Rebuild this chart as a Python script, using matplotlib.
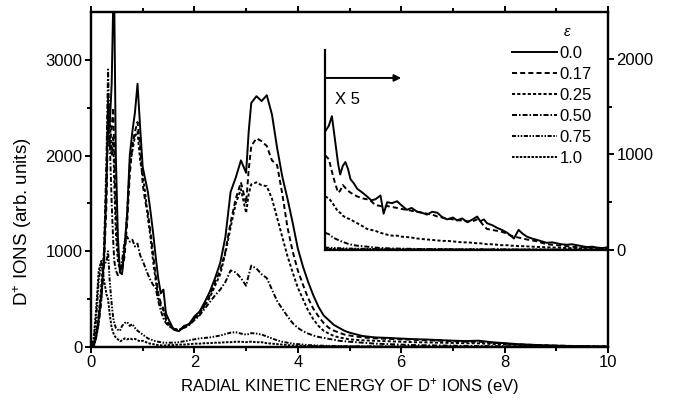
import matplotlib
matplotlib.use("Agg")
import matplotlib.pyplot as plt

plt.rcParams['font.family'] = ['Liberation Sans', 'DejaVu Sans']
plt.rcParams['mathtext.fontset'] = 'custom'
plt.rcParams['mathtext.rm'] = 'Liberation Sans'
plt.rcParams['mathtext.it'] = 'Liberation Sans:italic'

# energies (eV) for the main curves
x_main = [0.0, 0.05, 0.1, 0.15, 0.2, 0.25, 0.3, 0.33, 0.36, 0.4,
          0.43, 0.45, 0.48, 0.52, 0.56, 0.6, 0.65, 0.7, 0.75, 0.8,
          0.85, 0.9, 0.95, 1.0, 1.05, 1.1, 1.15, 1.2, 1.25, 1.3,
          1.35, 1.4, 1.45, 1.5, 1.6, 1.7, 1.8, 1.9, 2.0, 2.1,
          2.2, 2.3, 2.4, 2.5, 2.6, 2.7, 2.8, 2.9, 3.0, 3.05,
          3.1, 3.2, 3.3, 3.4, 3.5, 3.6, 3.7, 3.8, 3.9, 4.0,
          4.1, 4.2, 4.3, 4.4, 4.5, 4.6, 4.7, 4.8, 4.9, 5.0,
          5.25, 5.5, 5.75, 6.0, 6.25, 6.5, 6.75, 7.0, 7.25, 7.5,
          7.75, 8.0, 8.25, 8.5, 8.75, 9.0, 9.5, 10.0]

eps_00 = [0, 0, 120, 300, 560, 900, 1700, 2500, 2300, 2750,
          3600, 3600, 2000, 1150, 780, 760, 1050, 1400, 2000, 2250,
          2450, 2750, 2300, 1880, 1750, 1620, 1420, 1200, 950, 720,
          560, 600, 350, 290, 180, 165, 220, 240, 320, 370,
          470, 580, 720, 880, 1150, 1620, 1770, 1950, 1820, 2250,
          2550, 2620, 2570, 2630, 2430, 2080, 1780, 1550, 1300, 1030,
          840, 680, 540, 420, 330, 280, 230, 200, 170, 150,
          115, 100, 95, 88, 82, 78, 72, 66, 62, 66,
          50, 40, 30, 24, 18, 14, 8, 4]

eps_017 = [0, 0, 100, 260, 500, 850, 1500, 2400, 2100, 2300,
           2500, 2000, 1400, 1000, 820, 800, 950, 1300, 1800, 2100,
           2250, 2350, 2100, 1700, 1520, 1400, 1200, 980, 750, 560,
           460, 400, 300, 250, 190, 175, 210, 240, 300, 350,
           440, 540, 680, 800, 1000, 1300, 1550, 1720, 1500, 1850,
           2100, 2180, 2150, 2100, 1950, 1900, 1600, 1250, 1000, 800,
           650, 510, 400, 320, 250, 200, 170, 150, 130, 120,
           100, 90, 85, 80, 75, 70, 65, 60, 55, 55,
           45, 35, 28, 22, 18, 14, 9, 5]

eps_025 = [0, 0, 150, 350, 650, 1000, 1800, 2600, 2400, 2000,
           2200, 1700, 1200, 900, 800, 850, 1000, 1400, 1900, 2050,
           2200, 2250, 1950, 1800, 1600, 1350, 1150, 900, 700, 520,
           430, 380, 280, 230, 180, 175, 200, 235, 290, 340,
           430, 520, 640, 760, 980, 1250, 1500, 1650, 1400, 1600,
           1700, 1720, 1690, 1680, 1550, 1350, 1150, 950, 780, 620,
           500, 380, 290, 220, 170, 140, 115, 100, 90, 80,
           70, 65, 60, 55, 50, 48, 45, 42, 40, 38,
           32, 28, 22, 18, 15, 12, 8, 4]

eps_050 = [0, 0, 100, 250, 500, 900, 2000, 2900, 2200, 1500,
           1100, 900, 800, 750, 780, 900, 1100, 1150, 1100, 1120,
           1050, 1080, 960, 900, 830, 760, 700, 650, 620, 480,
           380, 300, 250, 220, 190, 180, 200, 230, 280, 330,
           400, 470, 540, 600, 680, 800, 780, 720, 640, 750,
           850, 820, 760, 720, 600, 480, 400, 320, 250, 200,
           165, 140, 120, 105, 95, 85, 75, 65, 60, 55,
           45, 35, 30, 25, 20, 18, 16, 14, 12, 10,
           9, 8, 7, 6, 5, 4, 3, 2]

eps_075 = [0, 50, 300, 700, 880, 850, 900, 1000, 700, 450,
           300, 250, 200, 180, 170, 220, 250, 260, 220, 240,
           200, 170, 150, 130, 110, 90, 80, 70, 60, 55,
           50, 45, 45, 45, 45, 50, 60, 70, 80, 90,
           95, 100, 110, 120, 135, 150, 155, 140, 130, 135,
           145, 140, 130, 110, 90, 70, 55, 45, 35, 30,
           25, 20, 18, 15, 13, 12, 11, 10, 9, 8,
           7, 6, 6, 5, 5, 5, 4, 4, 4, 3,
           3, 3, 2, 2, 2, 2, 1, 1]

eps_100 = [0, 80, 400, 800, 900, 700, 550, 500, 350, 200,
           150, 120, 100, 80, 60, 70, 90, 80, 90, 80,
           85, 70, 60, 65, 55, 40, 35, 30, 25, 20,
           18, 15, 18, 20, 20, 25, 25, 30, 35, 35,
           40, 40, 45, 45, 50, 50, 55, 55, 50, 55,
           55, 50, 50, 40, 35, 30, 25, 20, 15, 15,
           12, 10, 10, 9, 8, 8, 7, 7, 6, 6,
           5, 5, 4, 4, 4, 3, 3, 3, 3, 2,
           2, 2, 2, 1, 1, 1, 1, 0]

# x5 inset (right axis)
x_ins = [4.53, 4.6, 4.66, 4.72, 4.78, 4.82, 4.87, 4.92, 4.97, 5.02,
         5.08, 5.15, 5.25, 5.34, 5.42, 5.5, 5.6, 5.66, 5.73, 5.82,
         5.92, 6.0, 6.11, 6.2, 6.31, 6.4, 6.5, 6.6, 6.7, 6.8,
         6.89, 7.0, 7.08, 7.18, 7.28, 7.38, 7.47, 7.53, 7.6, 7.66,
         7.76, 7.86, 7.95, 8.05, 8.12, 8.18, 8.27, 8.35, 8.43, 8.53,
         8.63, 8.72, 8.82, 8.92, 9.01, 9.1, 9.2, 9.3, 9.4, 9.5,
         9.6, 9.7, 9.79, 9.9, 10.0]

ins_00 = [1240, 1300, 1400, 1150, 900, 790, 880, 920, 850, 740,
          700, 640, 600, 560, 520, 530, 570, 380, 500, 490,
          510, 470, 420, 440, 400, 390, 370, 400, 390, 340,
          320, 340, 310, 330, 290, 320, 350, 300, 320, 280,
          260, 230, 210, 180, 150, 120, 210, 170, 140, 120,
          105, 90, 75, 80, 70, 60, 55, 60, 50, 40,
          30, 35, 25, 20, 30]

ins_017 = [990, 950, 820, 700, 600, 620, 680, 650, 620, 600,
           580, 560, 540, 530, 510, 470, 460, 450, 460, 450,
           440, 430, 420, 410, 400, 390, 380, 370, 350, 340,
           330, 320, 310, 310, 300, 300, 320, 300, 250, 220,
           210, 200, 190, 170, 150, 140, 130, 120, 110, 100,
           90, 75, 60, 55, 50, 45, 40, 35, 30, 30,
           25, 25, 20, 20, 20]

ins_025 = [560, 540, 500, 450, 400, 390, 360, 340, 330, 320,
           300, 280, 250, 220, 210, 200, 180, 170, 160, 150,
           150, 140, 135, 130, 120, 115, 110, 105, 100, 95,
           95, 90, 85, 80, 80, 75, 70, 70, 65, 60,
           60, 55, 50, 50, 45, 45, 40, 40, 38, 35,
           32, 30, 28, 26, 25, 22, 20, 20, 18, 18,
           16, 15, 15, 14, 14]

ins_050 = [180, 165, 140, 120, 105, 95, 85, 75, 65, 58,
           50, 45, 40, 35, 30, 25, 22, 20, 18, 16,
           15, 14, 13, 12, 11, 10, 10, 9, 9, 8,
           8, 8, 7, 7, 7, 6, 6, 6, 6, 5,
           5, 5, 5, 5, 4, 4, 4, 4, 4, 4,
           3, 3, 3, 3, 3, 3, 2, 2, 2, 2,
           2, 2, 2, 2, 2]

x_low = [4.53, 5.0, 5.5, 6.0, 7.0, 8.0, 9.0, 10.0]
ins_075 = [25, 15, 10, 8, 6, 5, 4, 3]
ins_100 = [12, 8, 6, 5, 4, 3, 2, 2]

labels = ['0.0', '0.17', '0.25', '0.50', '0.75', '1.0']
styles = ['-', (0, (2.6, 1.6)), (0, (1.6, 1.1)), (0, (2.6, 1.0, 0.8, 1.0)),
          (0, (2.1, 0.8, 0.8, 0.8, 0.8, 0.8)), (0, (1.3, 0.7))]

main_data = [eps_00, eps_017, eps_025, eps_050, eps_075, eps_100]
ins_data = [(x_ins, ins_00), (x_ins, ins_017), (x_ins, ins_025),
            (x_ins, ins_050), (x_low, ins_075), (x_low, ins_100)]

fig = plt.figure(figsize=(6.73, 4.05), dpi=100)
ax = fig.add_axes([91 / 673, 58 / 405, 517 / 673, 335 / 405])
ax2 = ax.twinx()

lw = 1.4
for y, ls, lab in zip(main_data, styles, labels):
    ax.plot(x_main, y, color='k', lw=lw, linestyle=ls, label=lab)
for (xx, yy), ls in zip(ins_data, styles):
    ax2.plot(xx, yy, color='k', lw=lw, linestyle=ls)

ax.set_xlim(0, 10)
ax.set_ylim(0, 3500)
ax2.set_ylim(-1015, 2490)

ax.set_xticks([0, 2, 4, 6, 8, 10])
ax.set_xticks(range(0, 11), minor=True)
ax.set_yticks([0, 1000, 2000, 3000])
ax.set_yticks([500, 1500, 2500], minor=True)
ax2.set_yticks([0, 1000, 2000])
ax2.set_yticks([500, 1500], minor=True)

for a in (ax, ax2):
    for s in a.spines.values():
        s.set_linewidth(1.6)
    a.tick_params(which='major', length=4, width=1.4, labelsize=12, pad=2)
    a.tick_params(which='minor', length=3, width=1.4)
ax.tick_params(which='both', top=True, direction='out')

# inset frame, arrow and scale note
ax2.plot([4.53, 4.53], [0, 2092], color='k', lw=1.6)
ax2.plot([4.53, 10], [0, 0], color='k', lw=1.6)
ax2.annotate('', xy=(6.0, 1800), xytext=(4.53, 1800),
             arrowprops=dict(arrowstyle='-|>', color='k', lw=1.4,
                             mutation_scale=10, shrinkA=0, shrinkB=0))
ax2.text(4.72, 1570, 'X 5', fontsize=12, va='center', ha='left')

ax.set_xlabel(r'RADIAL KINETIC ENERGY OF D$^{+}$ IONS (eV)', fontsize=12)
ax.set_ylabel(r'D$^{+}$ IONS (arb. units)', fontsize=13.5)
ax.yaxis.set_label_coords(-0.11, 0.375)

leg = ax.legend(loc='upper left', bbox_to_anchor=((512 - 91) / 517, (347 - 46) / 335),
                frameon=False, fontsize=12, handlelength=2.7, handletextpad=0.15,
                labelspacing=0.36, borderpad=0, borderaxespad=0)
ax.text((567 - 91) / 517, (347 - 31) / 335, r'$\varepsilon$', transform=ax.transAxes,
        fontsize=11, ha='center', va='center', family='DejaVu Sans', style='italic')

fig.savefig('out.png', dpi=100)
